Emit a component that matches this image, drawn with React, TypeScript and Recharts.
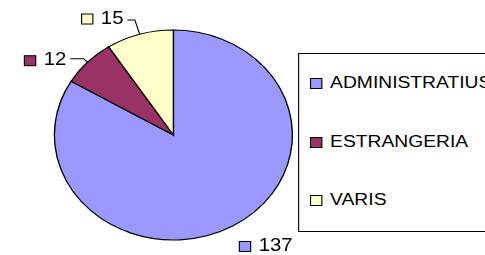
import React from 'react';
import { PieChart, Pie, Cell, Legend } from 'recharts';

const categories: string[] = ['ADMINISTRATIUS', 'ESTRANGERIA', 'VARIS'];
const values: number[] = [137, 12, 15];
const colors: string[] = ['#9999FF', '#993366', '#FFFFCC'];

const data = categories.map((name, i) => ({ name, value: values[i] }));

const STRETCH = 1.1333;
const FONT = '"Liberation Sans", Arial, sans-serif';
const RAD = Math.PI / 180;

// label placement relative to each slice's edge point (layout only)
const labelLayout = [
  { line: false, d: 0, arm: 0, dx: 6.3, dy: 24.7 },
  { line: true, d: 5, arm: 11.7, dx: 0, dy: 6.5 },
  { line: true, d: 15, arm: 6.5, dx: 0, dy: 3.6 },
];

const renderLabel = (props: any) => {
  const { cx, cy, midAngle, outerRadius, index, value } = props;
  const cos = Math.cos(-midAngle * RAD);
  const sin = Math.sin(-midAngle * RAD);
  const ex = cx + outerRadius * cos;
  const ey = cy + outerRadius * sin;
  const L = labelLayout[index];
  const fs = 18;
  const text = String(value);
  const tw = text.length * 0.556 * fs;
  let sqX: number;
  let textX: number;
  let base: number;
  let line: any = null;
  if (!L.line) {
    sqX = ex + L.dx;
    base = ey + L.dy;
    textX = sqX + 10 + 7;
  } else {
    const bx = ex + L.d * cos;
    const by = ey + L.d * sin;
    const ax = bx - L.arm;
    line = (
      <polyline
        points={`${ex},${ey} ${bx},${by} ${ax},${by}`}
        fill="none"
        stroke="#000"
        strokeWidth={1}
      />
    );
    const textEnd = ax - 3.5;
    textX = textEnd - tw;
    sqX = textX - 7 - 10;
    base = by + L.dy;
  }
  return (
    <g key={`lbl-${index}`}>
      {line}
      <rect x={sqX} y={base - 9.5} width={10} height={10} fill={colors[index]} stroke="#000" strokeWidth={1} />
      <text x={textX} y={base} fontSize={fs} fontFamily={FONT} fill="#000">
        {text}
      </text>
    </g>
  );
};

const legendBaselines = [35, 94, 152];

const renderLegend = (props: any) => {
  const payload = props.payload || [];
  return (
    <svg width={200} height={179} style={{ display: 'block' }}>
      <rect x={0.5} y={0.5} width={199} height={178} fill="#fff" stroke="#000" strokeWidth={1} />
      {payload.map((entry: any, i: number) => (
        <g key={i}>
          <rect
            x={11}
            y={legendBaselines[i] - 9.5}
            width={10}
            height={10}
            fill={colors[i]}
            stroke="#000"
            strokeWidth={1}
          />
          <text x={28.3} y={legendBaselines[i]} fontSize={17} fontFamily={FONT} fill="#000">
            {entry.value}
          </text>
        </g>
      ))}
    </svg>
  );
};

export default function App() {
  return (
    <div
      style={{
        position: 'absolute',
        left: 0,
        top: 0,
        width: 485,
        height: 255,
        overflow: 'hidden',
        background: '#fff',
      }}
    >
      <div style={{ width: 470, height: 255, transform: `scaleX(${STRETCH})`, transformOrigin: '0 0' }}>
        <PieChart width={470} height={255} margin={{ top: 0, right: 0, bottom: 0, left: 0 }}>
          <Pie
            data={data}
            dataKey="value"
            nameKey="name"
            cx={153}
            cy={135}
            outerRadius={105}
            startAngle={90}
            endAngle={-270}
            stroke="#000"
            strokeWidth={1.2}
            label={renderLabel}
            labelLine={false}
            isAnimationActive={false}
          >
            {data.map((_, i) => (
              <Cell key={i} fill={colors[i]} />
            ))}
          </Pie>
          <Legend
            layout="vertical"
            align="right"
            verticalAlign="top"
            content={renderLegend}
            wrapperStyle={{ left: 263, top: 53, width: 200, height: 179, right: 'auto', bottom: 'auto' }}
          />
        </PieChart>
      </div>
    </div>
  );
}
